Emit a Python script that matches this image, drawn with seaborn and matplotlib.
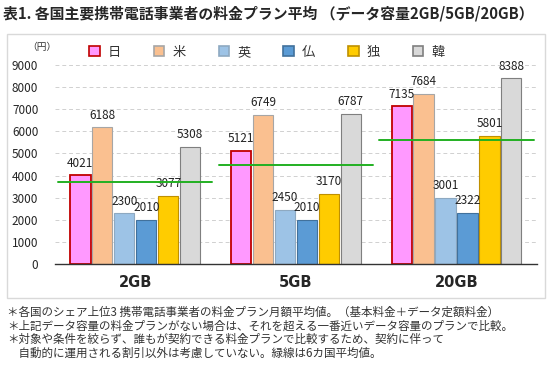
import pandas as pd
import matplotlib.pyplot as plt
from matplotlib.patches import Rectangle
import seaborn as sns

# data
plans = ['2GB', '5GB', '20GB']
countries = ['日', '米', '英', '仏', '独', '韓']
jp = [4021, 5121, 7135]
us = [6188, 6749, 7684]
uk = [2300, 2450, 3001]
fr = [2010, 2010, 2322]
de = [3077, 3170, 5801]
kr = [5308, 6787, 8388]
avg6 = [3720, 4470, 5610]   # green lines (6-country average as drawn)

colors = ['#FF99FF', '#FAC090', '#9DC3E6', '#5B9BD5', '#FFCC00', '#D9D9D9']
edges = ['#C00000', '#A6A6A6', '#8EA9C1', '#41719C', '#BF9000', '#7F7F7F']

rows = []
for c, vals in zip(countries, [jp, us, uk, fr, de, kr]):
    for p, v in zip(plans, vals):
        rows.append({'plan': p, 'country': c, 'price': v})
df = pd.DataFrame(rows)

sns.set_style('white')
plt.rcParams['font.family'] = ['Noto Sans CJK JP', 'DejaVu Sans']

fig = plt.figure(figsize=(5.5, 3.79), dpi=100)
ax = fig.add_axes([0.1, 0.303, 0.876, 0.526])

sns.barplot(data=df, x='plan', y='price', hue='country', palette=colors,
            order=plans, hue_order=countries, width=0.82, gap=0.08,
            saturation=1, linewidth=0.8, ax=ax, legend=False)

for cont, ec in zip(ax.containers, edges):
    for bar in cont:
        bar.set_edgecolor(ec)
        bar.set_linewidth(1.3 if ec == '#C00000' else 0.8)
    ax.bar_label(cont, fontsize=8.5, padding=4, color='#222222')

# 6-country averages
for i, a in enumerate(avg6):
    ax.plot([i - 0.48, i + 0.48], [a, a], color='#22B022', lw=1.4, zorder=5)

ax.set_xlim(-0.5, 2.5)
ax.set_ylim(0, 9000)
ax.set_yticks(range(0, 9001, 1000))
ax.yaxis.grid(True, ls=(0, (4, 3)), color='#D0D0D0', lw=0.7)
ax.set_axisbelow(True)
for s in ['top', 'right', 'left']:
    ax.spines[s].set_visible(False)
ax.spines['bottom'].set_color('#333333')
ax.spines['bottom'].set_linewidth(1.0)
ax.tick_params(axis='y', length=0, labelsize=8.5, pad=12)
ax.tick_params(axis='x', length=0, pad=8)
for lab in ax.get_xticklabels():
    lab.set_fontweight('bold')
    lab.set_fontsize(10.5)
    lab.set_family(['DejaVu Sans'])
ax.set_xlabel('')
ax.set_ylabel('')

# legend
handles = [Rectangle((0, 0), 1, 1, fc=c, ec=e, lw=1.2) for c, e in zip(colors, edges)]
fig.legend(handles, countries, loc='center', bbox_to_anchor=(0.485, 0.862),
           ncol=6, frameon=False, fontsize=9.5, handlelength=0.8, handleheight=0.8,
           columnspacing=2.5, handletextpad=0.6, labelcolor='#333333')

fig.text(0.05, 0.876, '（円）', fontsize=7, color='#333333', va='center')

# chart frame
fig.patches.append(Rectangle((7 / 550, 1 - 298 / 379), 538 / 550, 264 / 379,
                             transform=fig.transFigure, fill=False,
                             ec='#D9D9D9', lw=1.0))

fig.text(0.005, 0.965, '表1. 各国主要携帯電話事業者の料金プラン平均 （データ容量2GB/5GB/20GB）',
         fontsize=10.7, fontweight='bold', va='center')

notes = ['＊各国のシェア上位3 携帯電話事業者の料金プラン月額平均値。（基本料金＋データ定額料金）',
         '＊上記データ容量の料金プランがない場合は、それを超える一番近いデータ容量のプランで比較。',
         '＊対象や条件を絞らず、誰もが契約できる料金プランで比較するため、契約に伴って',
         '　自動的に運用される割引以外は考慮していない。緑線は6カ国平均値。']
for k, n in enumerate(notes):
    fig.text(0.013, 1 - (312 + k * 13.7) / 379, n, fontsize=8.3, color='#333333', va='center')

plt.savefig('out.png', dpi=100)
